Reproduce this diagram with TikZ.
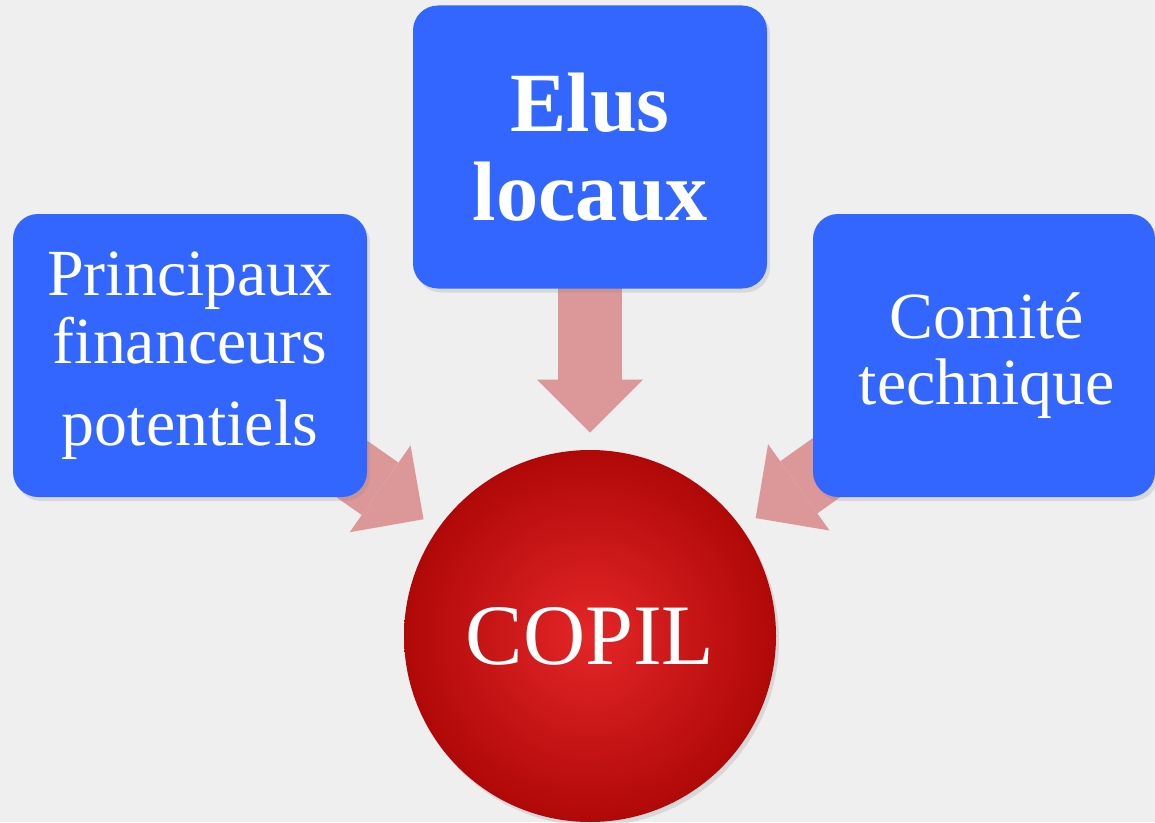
\documentclass[tikz,border=0pt]{standalone}
\usepackage{fontspec}
\setmainfont{Liberation Serif}
\usetikzlibrary{arrows.meta,shadows}
\definecolor{boxblue}{RGB}{51,102,255}
\definecolor{flowpink}{RGB}{220,152,152}
\definecolor{copilin}{RGB}{228,38,40}
\definecolor{copilout}{RGB}{176,8,8}
\definecolor{paper}{RGB}{239,239,239}
\pgfdeclarelayer{back}
\pgfdeclarelayer{mid}
\pgfsetlayers{back,mid,main}

\begin{document}
\begin{tikzpicture}[
  box/.style={rectangle, rounded corners=0.5cm, fill=boxblue, text=white,
    minimum width=7.08cm, minimum height=5.66cm, inner sep=0pt, align=center,
    drop shadow={opacity=0.2, shadow xshift=0.06cm, shadow yshift=-0.08cm}},
  flow/.style={draw=flowpink, line width=1.28cm,
    -{Triangle[width=2.12cm,length=1.06cm,line width=0pt]}, shorten >=0.34cm}
]
\useasboundingbox (0,0) rectangle (23.1,16.44);
\begin{pgfonlayer}{back}
\fill[paper] (0,0) rectangle (23.1,16.44);
\end{pgfonlayer}

\node[box, font=\fontsize{48}{50.5}\selectfont\bfseries] (elus) at (11.8,13.5) {Elus\\locaux};
\node[box, font=\fontsize{37.5}{39}\selectfont] (financeurs) at (3.8,9.33) {Principaux\\financeurs\\[7.5pt]potentiels};
\node[box, minimum width=6.84cm, font=\fontsize{37.5}{38}\selectfont] (comite) at (19.68,9.33) {\hspace*{0.12cm}Comité\\\hspace*{0.12cm}technique};
\node[circle, minimum size=7.44cm, inner sep=0pt, inner color=copilin, outer color=copilout,
  text=white, font=\fontsize{49}{50}\selectfont,
  drop shadow={opacity=0.2, shadow xshift=0.06cm, shadow yshift=-0.08cm}] (copil) at (11.8,3.72) {COPIL};

\begin{pgfonlayer}{mid}
\path[flow] (elus.center) -- (copil);
\path[flow] (financeurs.center) -- (copil);
\path[flow] (comite.center) -- (copil);
\end{pgfonlayer}
\end{tikzpicture}
\end{document}
